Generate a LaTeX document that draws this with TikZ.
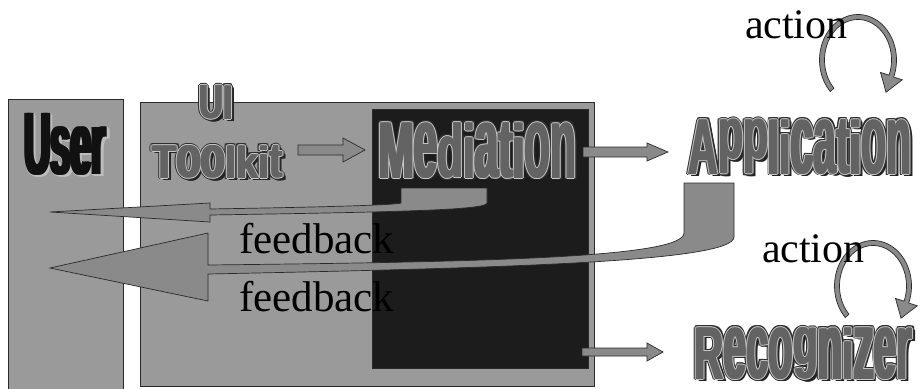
\documentclass[tikz,border=0pt]{standalone}
\usepackage{fontspec}
\usepackage{graphicx}
\setmainfont{Liberation Serif}
\newfontfamily\wafont{Liberation Sans}

\definecolor{panelgray}{HTML}{9A9A9A}
\definecolor{blackbox}{HTML}{1C1C1C}
\definecolor{arrowgray}{HTML}{8A8A8A}
\definecolor{edgecol}{HTML}{2A2A2A}
\definecolor{wafill}{HTML}{636363}
\definecolor{warim}{HTML}{C8C8C8}
\definecolor{waedge}{HTML}{2E2E2E}
\definecolor{washadow}{HTML}{222222}
\definecolor{usershadow}{HTML}{BDBDBD}
\definecolor{userfill}{HTML}{111111}

% even-height lettering (each letter stretched to the same height), colour set inside every box
\newcommand\evheight{10pt}
\newcommand\evcolor{black}
\newcommand\evl[1]{\resizebox*{\width}{\evheight}{\raisebox{\depth}{\color{\evcolor}#1}}}
\def\evloop#1{\ifx\relax#1\else\evl{#1}\expandafter\evloop\fi}
\newcommand\evenh[1]{{\fontsize{10}{12}\selectfont\expandafter\evloop#1\relax}}

\newcommand\waW{10pt}
\newcommand\waH{10pt}
\newcommand\watext{}
\newcommand\wamake[1]{\def\evcolor{#1}%
  \resizebox{\waW}{\waH}{\color{#1}\wafont\bfseries\rlap{\evenh{\watext}}\rlap{\kern0.3pt\evenh{\watext}}\kern0.6pt\evenh{\watext}}}
\newcommand\wcopy[3]{\makebox[0pt][l]{\kern#2\raisebox{#3}[0pt][0pt]{\wamake{#1}}}}
\newcommand\waword[3]{\def\waW{#1}\def\waH{#2}\def\watext{#3}%
  \wcopy{washadow}{2.8pt}{-2.8pt}\wcopy{washadow}{1.8pt}{-1.8pt}%
  \wcopy{waedge}{1.9pt}{0pt}\wcopy{waedge}{-1.9pt}{0pt}\wcopy{waedge}{0pt}{1.9pt}\wcopy{waedge}{0pt}{-1.9pt}%
  \wcopy{waedge}{1.35pt}{1.35pt}\wcopy{waedge}{-1.35pt}{1.35pt}\wcopy{waedge}{1.35pt}{-1.35pt}\wcopy{waedge}{-1.35pt}{-1.35pt}%
  \wcopy{warim}{1pt}{0pt}\wcopy{warim}{-1pt}{0pt}\wcopy{warim}{0pt}{1pt}\wcopy{warim}{0pt}{-1pt}%
  \wamake{wafill}}

\newcommand\usermake[1]{\resizebox*{86pt}{62pt}{\color{#1}\wafont\bfseries\rlap{User}\rlap{\kern0.6pt User}\kern1.2pt User}}
\newcommand\ucopy[3]{\makebox[0pt][l]{\kern#2\raisebox{#3}[0pt][0pt]{\usermake{#1}}}}
\newcommand\userword{%
  \ucopy{usershadow}{2.6pt}{-2.6pt}\ucopy{usershadow}{1.6pt}{-1.6pt}\ucopy{usershadow}{1pt}{0pt}\ucopy{usershadow}{0pt}{-1pt}%
  \usermake{userfill}}

\begin{document}
\begin{tikzpicture}[x=1pt,y=-1pt,
  panel/.style={fill=panelgray, draw=edgecol, line width=0.8},
  darkpanel/.style={fill=blackbox, draw=edgecol, line width=0.8},
  blockarrow/.style={fill=arrowgray, draw=edgecol, line width=0.7, line join=miter},
  curlarrow/.style={fill=arrowgray, draw=edgecol, line width=0.7, line join=miter},
  word/.style={inner sep=0pt, outer sep=0pt, anchor=north west},
  plaintext/.style={inner sep=0pt, outer sep=0pt, anchor=base west, text=black}]
\useasboundingbox (0,0) rectangle (920,388);
\fill[white] (0,0) rectangle (920,388);

% panels
\draw[panel] (8,99) rectangle (123,392);
\draw[panel] (140,102) rectangle (594,386);
\draw[darkpanel] (372,109) rectangle (588,368);

% words
\node[word] (user) at (22,113) {\userword};
\node[word] (ui) at (198.5,85.5) {\waword{35pt}{33.5pt}{UI}};
\node[word] (toolkit) at (151.5,145.5) {\waword{132pt}{32.5pt}{Toolkit}};
\node[word] (mediation) at (377.5,122.5) {\waword{200pt}{55.5pt}{Mediation}};

% straight block arrows
\draw[blockarrow] (298,145) -- (343,145) -- (343,138) -- (365,150) -- (343,162) -- (343,155) -- (298,155) -- cycle;
\draw[blockarrow] (583,147) -- (647,147) -- (647,143) -- (668,152) -- (647,161) -- (647,157) -- (583,157) -- cycle;
\draw[blockarrow] (582,348) -- (647,348) -- (647,343) -- (663,352) -- (647,361) -- (647,356) -- (582,356) -- cycle;

% feedback arrows
\draw[blockarrow] (401,188) -- (487,188) -- (487,203)
  .. controls (487,210) and (400,212) .. (210,215)
  -- (210,222) -- (50,212) -- (210,203) -- (210,209)
  .. controls (330,207) and (395,205) .. (401,203) -- cycle;
\draw[blockarrow] (684,183) -- (734,183) -- (734,237)
  .. controls (734,262) and (500,268) .. (208,274)
  -- (208,301) -- (50,268) -- (208,233) -- (208,265)
  .. controls (480,262) and (684,258) .. (684,233) -- cycle;

\node[plaintext, font=\fontsize{43}{43}\selectfont] (fb1) at (239,253) {feedback};
\node[plaintext, font=\fontsize{43}{43}\selectfont] (fb2) at (239,311) {feedback};

\node[word] (application) at (687.5,119.5) {\waword{225pt}{54.5pt}{Application}};
\node[word] (recognizer) at (693.5,327.5) {\waword{220pt}{51.5pt}{Recognizer}};

% action loops
\draw[curlarrow] plot[domain=136:382, samples=60] ({858+38.5*cos(\x)},{60+45.5*sin(\x)})
  -- (902.3,79.8) -- (886,92.2) -- (880.5,72.4)
  -- plot[domain=382:136, samples=60] ({858+33.5*cos(\x)},{60+40.5*sin(\x)}) -- cycle;
\begin{scope}[shift={(15,226)}]
\draw[curlarrow] plot[domain=136:382, samples=60] ({858+38.5*cos(\x)},{60+45.5*sin(\x)})
  -- (902.3,79.8) -- (886,92.2) -- (880.5,72.4)
  -- plot[domain=382:136, samples=60] ({858+33.5*cos(\x)},{60+40.5*sin(\x)}) -- cycle;
\end{scope}

\node[plaintext, font=\fontsize{42}{42}\selectfont] (act1) at (745,38) {action};
\node[plaintext, font=\fontsize{42}{42}\selectfont] (act2) at (762,262) {action};
\end{tikzpicture}
\end{document}
